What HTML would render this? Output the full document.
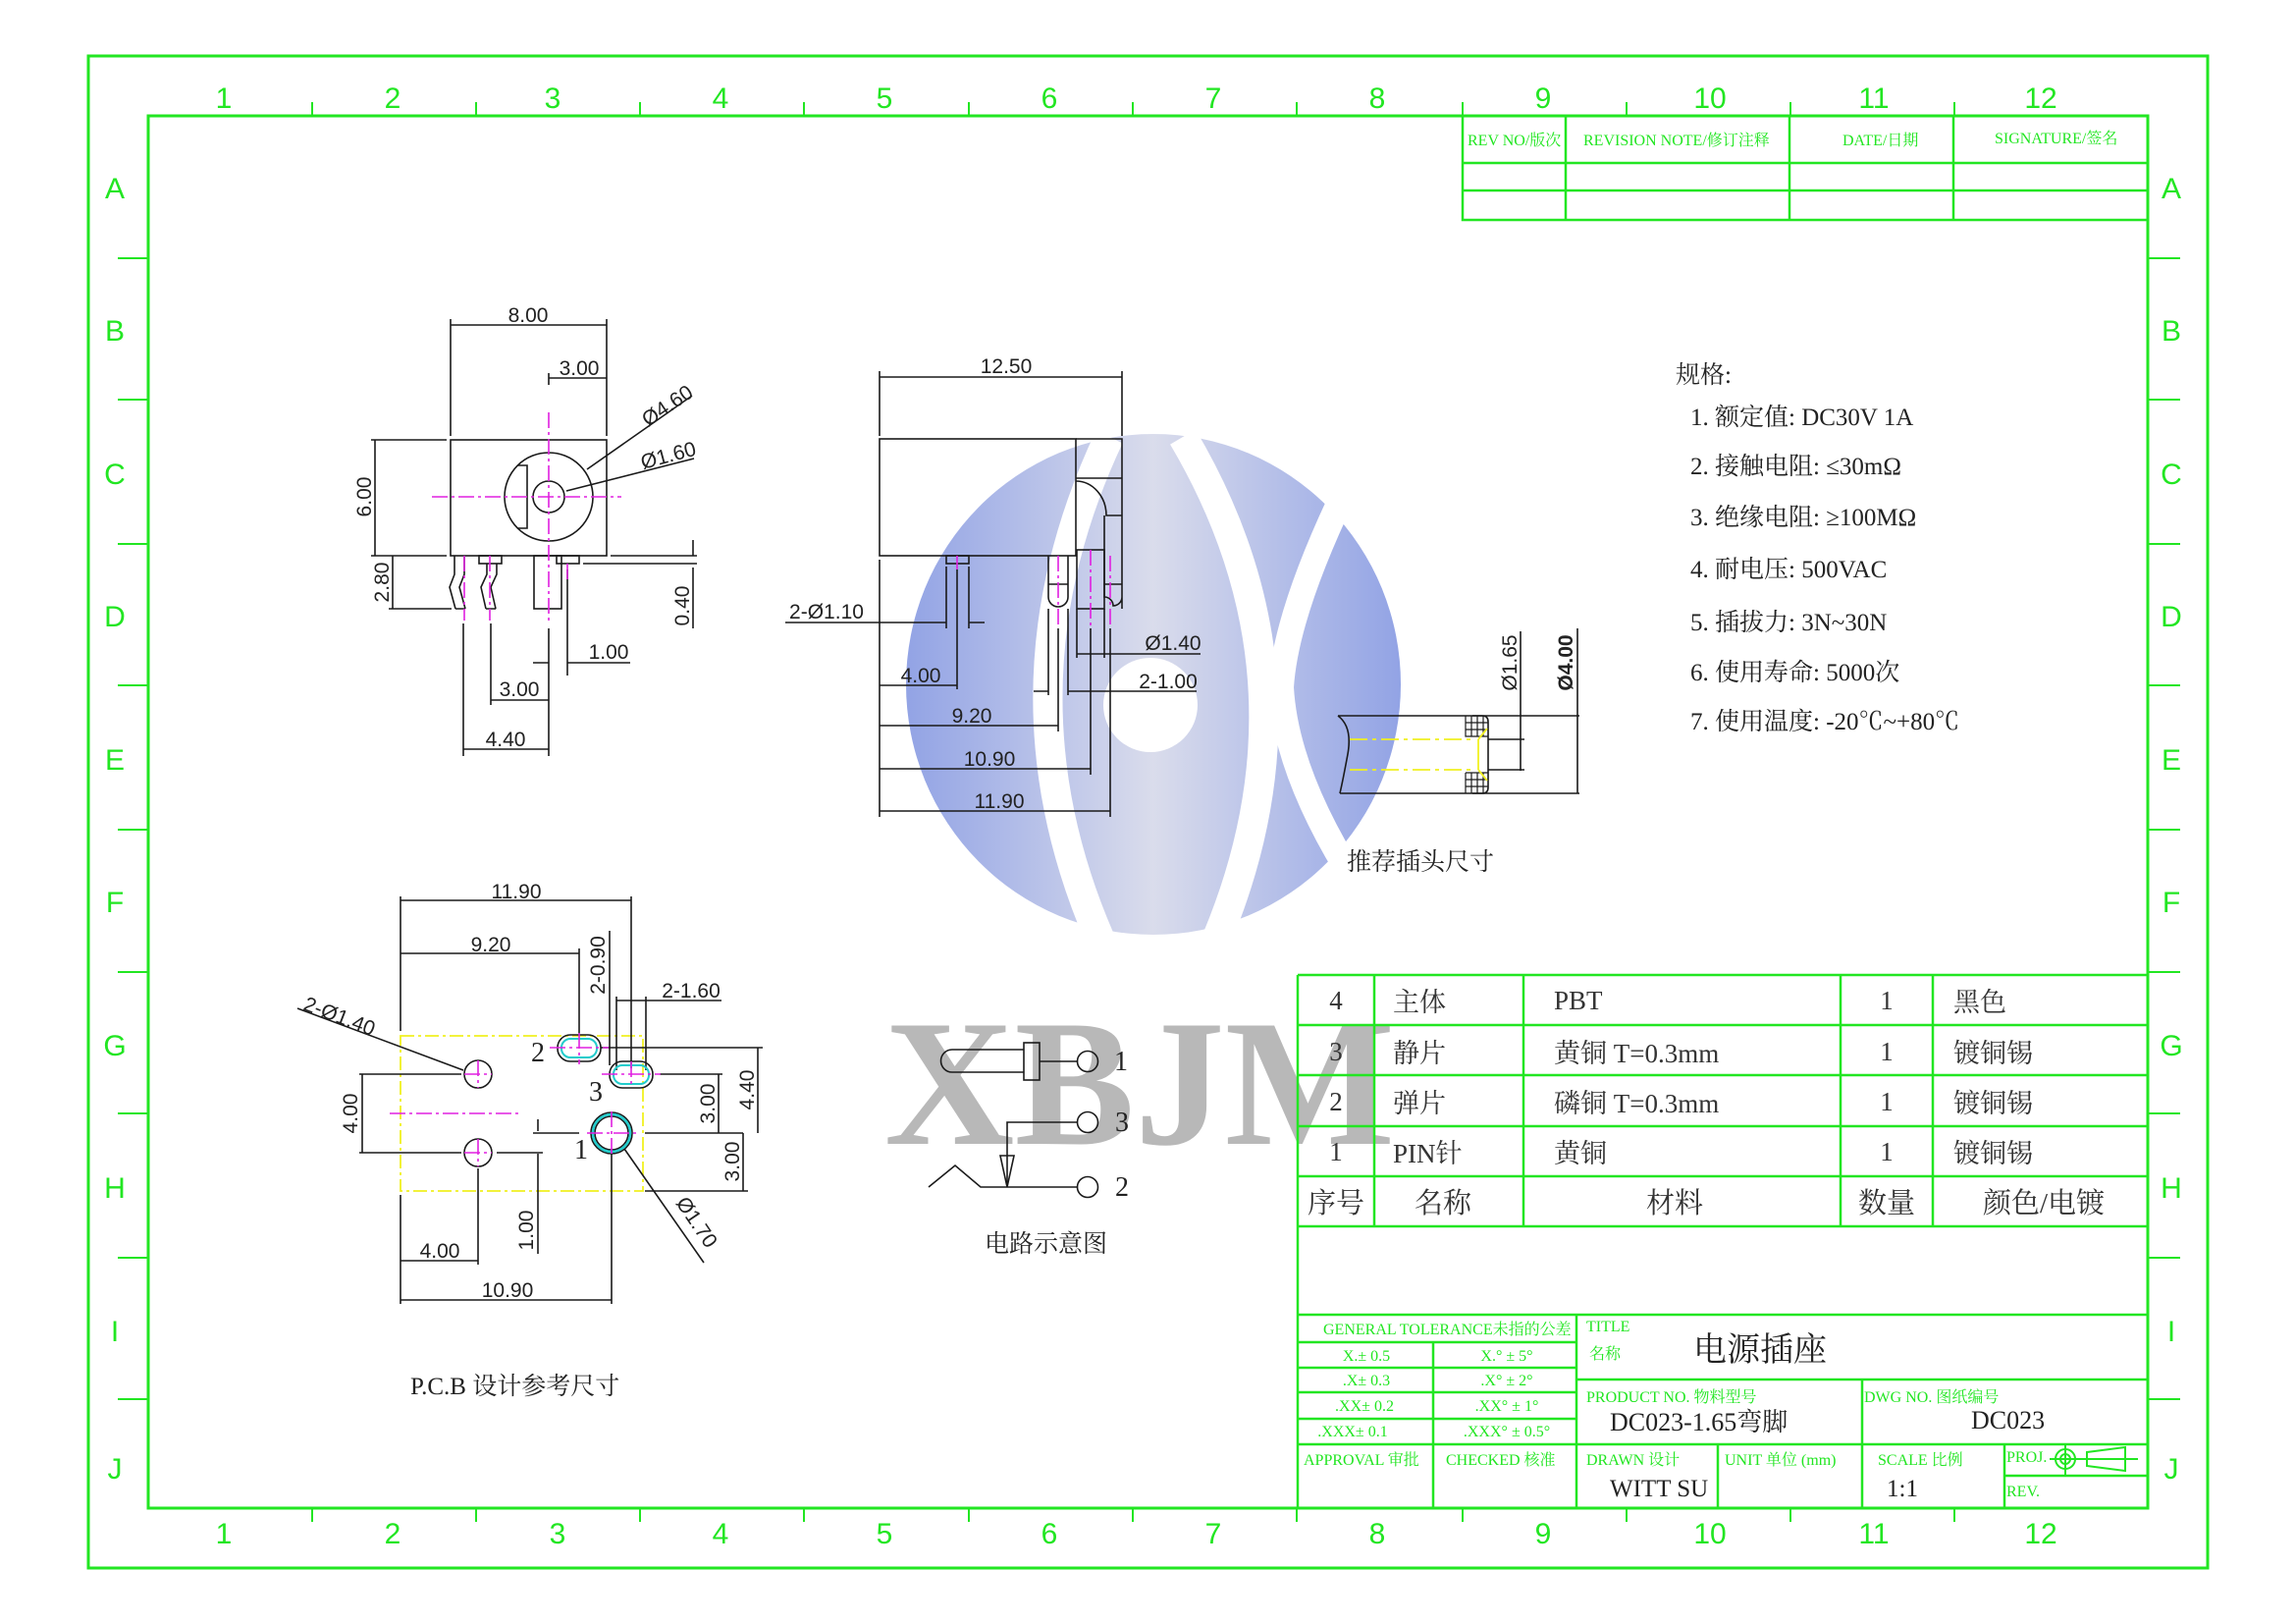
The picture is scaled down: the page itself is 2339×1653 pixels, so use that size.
<!DOCTYPE html>
<html><head><meta charset="utf-8"><style>
html,body{margin:0;padding:0;background:#fff;}
svg{display:block;}
.g{fill:none;stroke:#22e622;}
.k{fill:none;stroke:#1a1a1a;stroke-width:1.6;}
.m{fill:none;stroke:#e020e0;stroke-width:1.6;stroke-dasharray:16 4 3 4;}
.fr{font-family:"Liberation Sans",sans-serif;font-size:30px;fill:#22e622;text-anchor:middle;}
.dim{font-family:"Liberation Sans",sans-serif;font-size:21px;fill:#222;}
.gt{font-family:"Liberation Serif","Noto Serif CJK SC",serif;font-size:16px;fill:#22e622;}
.bt{font-family:"Liberation Serif","Noto Serif CJK SC",serif;font-size:27px;fill:#333;}
.st{font-family:"Liberation Serif","Noto Serif CJK SC",serif;font-size:25px;fill:#222;}
</style></head><body>
<svg width="2339" height="1653" viewBox="0 0 2339 1653" xmlns="http://www.w3.org/2000/svg">
<defs>
<linearGradient id="bl" x1="0" y1="0" x2="1" y2="0">
<stop offset="0" stop-color="#7f93e0"/><stop offset="0.22" stop-color="#a3b0e4"/><stop offset="0.5" stop-color="#d3d6e8"/><stop offset="0.78" stop-color="#a3b0e4"/><stop offset="1" stop-color="#7f93e0"/>
</linearGradient>
</defs>
<rect width="2339" height="1653" fill="#fff"/>
<!-- watermark logo -->
<ellipse cx="1175" cy="697" rx="252" ry="255" fill="url(#bl)" opacity="0.85"/>
<path d="M1130,445 Q1010,700 1120,955" fill="none" stroke="#fff" stroke-width="30"/>
<path d="M1205,445 Q1350,690 1240,955" fill="none" stroke="#fff" stroke-width="30"/>
<path d="M1380,480 Q1310,620 1305,700 Q1310,790 1385,905" fill="none" stroke="#fff" stroke-width="26"/>
<circle cx="1172" cy="718" r="48" fill="#fff"/>
<!-- XBJM -->
<text x="901" y="1165" font-family="Liberation Serif,serif" font-weight="bold" font-size="184" fill="#b8b8b8" textLength="520" lengthAdjust="spacingAndGlyphs">XBJM</text>

<!-- frame -->
<rect x="90" y="57" width="2159" height="1540" class="g" stroke-width="3"/>
<rect x="151" y="118" width="2037" height="1418" class="g" stroke-width="3"/>
<g class="g" stroke-width="2">
<path d="M318,104V118M485,104V118M652,104V118M819,104V118M987,104V118M1154,104V118M1321,104V118M1490,104V118M1657,104V118M1824,104V118M1991,104V118"/>
<path d="M318,1536V1550M485,1536V1550M652,1536V1550M819,1536V1550M987,1536V1550M1154,1536V1550M1321,1536V1550M1490,1536V1550M1657,1536V1550M1824,1536V1550M1991,1536V1550"/>
<path d="M120,263H151M120,407H151M120,554H151M120,698H151M120,845H151M120,990H151M120,1134H151M120,1281H151M120,1425H151"/>
<path d="M2188,263H2221M2188,407H2221M2188,554H2221M2188,698H2221M2188,845H2221M2188,990H2221M2188,1134H2221M2188,1281H2221M2188,1425H2221"/>
</g>
<g class="fr">
<text x="228" y="110">1</text><text x="400" y="110">2</text><text x="563" y="110">3</text><text x="734" y="110">4</text><text x="901" y="110">5</text><text x="1069" y="110">6</text><text x="1236" y="110">7</text><text x="1403" y="110">8</text><text x="1572" y="110">9</text><text x="1742" y="110">10</text><text x="1909" y="110">11</text><text x="2079" y="110">12</text>
<text x="228" y="1572">1</text><text x="400" y="1572">2</text><text x="568" y="1572">3</text><text x="734" y="1572">4</text><text x="901" y="1572">5</text><text x="1069" y="1572">6</text><text x="1236" y="1572">7</text><text x="1403" y="1572">8</text><text x="1572" y="1572">9</text><text x="1742" y="1572">10</text><text x="1909" y="1572">11</text><text x="2079" y="1572">12</text>
<text x="117" y="202">A</text><text x="117" y="347">B</text><text x="117" y="493">C</text><text x="117" y="638">D</text><text x="117" y="784">E</text><text x="117" y="929">F</text><text x="117" y="1075">G</text><text x="117" y="1220">H</text><text x="117" y="1366">I</text><text x="117" y="1506">J</text>
<text x="2212" y="202">A</text><text x="2212" y="347">B</text><text x="2212" y="493">C</text><text x="2212" y="638">D</text><text x="2212" y="784">E</text><text x="2212" y="929">F</text><text x="2212" y="1075">G</text><text x="2212" y="1220">H</text><text x="2212" y="1366">I</text><text x="2212" y="1506">J</text>
</g>

<!-- revision table -->
<g class="g" stroke-width="2.5">
<path d="M1490,118V224H2188M1490,166H2188M1490,194H2188M1595,118V224M1823,118V224M1990,118V224"/>
</g>
<g class="gt" font-size="16">
<text x="1495" y="148">REV NO/版次</text><text x="1613" y="148">REVISION NOTE/修订注释</text><text x="1877" y="148">DATE/日期</text><text x="2032" y="146">SIGNATURE/签名</text>
</g>

<!-- BOM table -->
<g class="g" stroke-width="2.5">
<path d="M1322,993H2188M1322,1044H2188M1322,1095H2188M1322,1147H2188M1322,1198H2188M1322,1249H2188M1322,1339H2188"/>
<path d="M1322,993V1536M1400,993V1249M1552,993V1249M1875,993V1249M1969,993V1249"/>
<path d="M1322,1367H1606M1322,1393H1606M1322,1418H1606M1322,1445H1606M1322,1471H2188M1606,1405H2188M1460,1367V1536M1606,1339V1536M1897,1405V1536M1750,1471V1536M2042,1471V1536M2042,1503H2188"/>
</g>
<g class="bt">
<text x="1361" y="1028" text-anchor="middle">4</text><text x="1419" y="1030">主体</text><text x="1583" y="1028">PBT</text><text x="1922" y="1028" text-anchor="middle">1</text><text x="1990" y="1030">黑色</text>
<text x="1361" y="1080" text-anchor="middle">3</text><text x="1419" y="1082">静片</text><text x="1583" y="1082">黄铜 T=0.3mm</text><text x="1922" y="1080" text-anchor="middle">1</text><text x="1990" y="1082">镀铜锡</text>
<text x="1361" y="1131" text-anchor="middle">2</text><text x="1419" y="1133">弹片</text><text x="1583" y="1133">磷铜 T=0.3mm</text><text x="1922" y="1131" text-anchor="middle">1</text><text x="1990" y="1133">镀铜锡</text>
<text x="1361" y="1182" text-anchor="middle">1</text><text x="1419" y="1184">PIN针</text><text x="1583" y="1184">黄铜</text><text x="1922" y="1182" text-anchor="middle">1</text><text x="1990" y="1184">镀铜锡</text>
<text x="1361" y="1235" text-anchor="middle" font-size="29">序号</text><text x="1470" y="1235" text-anchor="middle" font-size="29">名称</text><text x="1706" y="1235" text-anchor="middle" font-size="29">材料</text><text x="1922" y="1235" text-anchor="middle" font-size="29">数量</text><text x="2082" y="1235" text-anchor="middle" font-size="29">颜色/电镀</text>
</g>
<g class="gt" font-size="17">
<text x="1348" y="1359">GENERAL TOLERANCE未指的公差</text>
<text x="1392" y="1386" text-anchor="middle">X.± 0.5</text><text x="1535" y="1386" text-anchor="middle">X.° ± 5°</text>
<text x="1392" y="1411" text-anchor="middle">.X± 0.3</text><text x="1535" y="1411" text-anchor="middle">.X° ± 2°</text>
<text x="1390" y="1437" text-anchor="middle">.XX± 0.2</text><text x="1535" y="1437" text-anchor="middle">.XX° ± 1°</text>
<text x="1378" y="1463" text-anchor="middle">.XXX± 0.1</text><text x="1535" y="1463" text-anchor="middle">.XXX° ± 0.5°</text>
<text x="1328" y="1492">APPROVAL 审批</text><text x="1473" y="1492">CHECKED 核准</text>
<text x="1616" y="1356">TITLE</text><text x="1619" y="1384">名称</text>
<text x="1616" y="1428">PRODUCT NO.  物料型号</text><text x="1899" y="1428">DWG NO. 图纸编号</text>
<text x="1616" y="1492">DRAWN  设计</text><text x="1757" y="1492">UNIT 单位 (mm)</text><text x="1913" y="1492">SCALE 比例</text>
<text x="2044" y="1489">PROJ.</text><text x="2044" y="1524">REV.</text>
</g>
<g class="st" fill="#222">
<text x="1725" y="1386" font-size="34">电源插座</text>
<text x="1640" y="1457" font-size="26">DC023-1.65弯脚</text>
<text x="2008" y="1455" font-size="26">DC023</text>
<text x="1640" y="1524" font-size="25">WITT SU</text>
<text x="1922" y="1524" font-size="25">1:1</text>
</g>
<g class="g" stroke-width="2">
<circle cx="2104" cy="1486" r="10"/><circle cx="2104" cy="1486" r="5"/>
<path d="M2088,1486H2178M2104,1470V1502M2126,1479L2165,1474V1498L2126,1493Z"/>
</g>

<!-- spec text -->
<text x="1707" y="390" class="st" font-size="32">规格:</text>
<g class="st">
<text x="1722" y="433">1. 额定值:  DC30V  1A</text>
<text x="1722" y="483">2. 接触电阻:  ≤30mΩ</text>
<text x="1722" y="535">3. 绝缘电阻:  ≥100MΩ</text>
<text x="1722" y="588">4. 耐电压:  500VAC</text>
<text x="1722" y="642">5. 插拔力:  3N~30N</text>
<text x="1722" y="693">6. 使用寿命:  5000次</text>
<text x="1722" y="743">7. 使用温度:  -20℃~+80℃</text>
</g>

<!-- front view -->
<g class="k">
<rect x="459" y="448" width="159" height="118"/>
<circle cx="559" cy="506" r="45"/><circle cx="559" cy="506" r="16"/>
<path d="M527,474H537V538H527"/>
<path d="M459,325V444M618,325V444M459,331H618M559,385H618M559,380V392"/>
<path d="M598,478L705,403M577,500L707,467"/>
<path d="M378,448H455M378,566H455M382,448V566"/>
<path d="M463,566V585L458,598L464,620M473,566V585L468,598L474,620M464,620H474"/>
<rect x="488" y="566" width="23" height="8"/>
<path d="M496,574V585L490,598L495,620M506,574V585L500,598L505,620M495,620H505"/>
<rect x="544" y="566" width="28" height="54"/>
<rect x="567" y="566" width="23" height="8"/>
<path d="M400,566V620M396,620H460"/>
<path d="M622,566H710M594,574H710M706,550V566M706,578V640"/>
<path d="M472,635V770M500,635V718M559,640V770M578,580V688M543,675H559M578,675H642M500,713H559M472,763H559"/>
</g>
<g class="m">
<path d="M440,506H633M559,420V635M473,566V632M499,566V632M578,574V590"/>
</g>
<g class="dim">
<text x="538" y="328" text-anchor="middle">8.00</text>
<text x="590" y="382" text-anchor="middle">3.00</text>
<text transform="translate(660,435) rotate(-34)">Ø4.60</text>
<text transform="translate(655,478) rotate(-15)">Ø1.60</text>
<text transform="translate(378,506) rotate(-90)" text-anchor="middle">6.00</text>
<text transform="translate(396,593) rotate(-90)" text-anchor="middle">2.80</text>
<text transform="translate(702,617) rotate(-90)" text-anchor="middle">0.40</text>
<text x="620" y="671" text-anchor="middle">1.00</text>
<text x="529" y="709" text-anchor="middle">3.00</text>
<text x="515" y="760" text-anchor="middle">4.40</text>
</g>

<!-- side view -->
<g class="k">
<path d="M896,378V444M1143,378V444M896,384H1143"/>
<rect x="896" y="447" width="200" height="119"/>
<path d="M1096,447H1143V620M1096,487H1143M1096,490A31,35 0 0 1 1127,525H1143M1125,525V608A9,9 0 0 1 1134,617A9,9 0 0 0 1143,608"/>
<rect x="1097" y="560" width="28" height="60"/>
<rect x="964" y="566" width="23" height="8"/>
<path d="M1068,566V608A10,10 0 0 0 1088,608V566M1068,595H1088M1125,595H1143"/>
<path d="M896,570V832M964,577V640M987,577V640M800,634H964M987,634H1003M975,580V702M896,698H975"/>
<path d="M1068,620V708M1088,620V708M1053,704H1068M1088,704H1219M1078,640V745M896,739H1078"/>
<path d="M1097,620V670M1125,620V670M1097,666H1223M1111,640V789M896,783H1111M1131,640V832M896,826H1131"/>
</g>
<g class="m">
<path d="M975,566V580M1078,566V640M1111,560V640M1131,566V640"/>
</g>
<g class="dim">
<text x="1025" y="380" text-anchor="middle">12.50</text>
<text x="842" y="630" text-anchor="middle">2-Ø1.10</text>
<text x="938" y="695" text-anchor="middle">4.00</text>
<text x="990" y="736" text-anchor="middle">9.20</text>
<text x="1008" y="780" text-anchor="middle">10.90</text>
<text x="1018" y="823" text-anchor="middle">11.90</text>
<text x="1195" y="662" text-anchor="middle">Ø1.40</text>
<text x="1190" y="701" text-anchor="middle">2-1.00</text>
</g>

<!-- plug -->
<g class="k">
<path d="M1363,729H1609M1365,808H1609M1363,729Q1378,740 1373,768Q1368,795 1365,808"/>
<path d="M1500,729H1510Q1516,729 1516,735V802Q1516,808 1510,808H1500"/>
<path d="M1516,753H1553M1516,784H1553M1549,643V785M1607,640V808"/>
<path d="M1493,729V750H1516M1493,787V808M1493,787H1516M1499,729V750M1505,729V750M1511,729V750M1493,736H1516M1493,743H1516M1499,787V808M1505,787V808M1511,787V808M1493,794H1516M1493,801H1516" stroke-width="1.2"/>
</g>
<g fill="none" stroke="#f0f020" stroke-width="1.8">
<path d="M1375,753H1500M1375,784H1500" stroke-dasharray="18 5 4 5"/>
<path d="M1506,753V784M1506,753L1515,742M1506,784L1515,795"/>
</g>
<g class="dim">
<text transform="translate(1545,675) rotate(-90)" text-anchor="middle">Ø1.65</text>
<text transform="translate(1602,675) rotate(-90)" text-anchor="middle" font-weight="bold">Ø4.00</text>
</g>
<text x="1372" y="886" class="st" fill="#555" font-size="25">推荐插头尺寸</text>

<!-- PCB -->
<rect x="408" y="1055" width="247" height="158" fill="none" stroke="#f0f020" stroke-width="1.8" stroke-dasharray="14 4 3 4"/>
<g class="k">
<path d="M408,913V1050M643,913V1088M408,917H643M590,966V1055M408,971H590"/>
<path d="M621,948V1085M628,1015V1090M658,1015V1090M628,1019H735"/>
<path d="M303,1027L472,1090"/>
<circle cx="487" cy="1094" r="14"/><circle cx="487" cy="1174" r="14"/>
<circle cx="623" cy="1154" r="21"/><circle cx="623" cy="1154" r="17"/>
<rect x="568" y="1054" width="44" height="27" rx="13"/><rect x="572" y="1058" width="36" height="19" rx="9" stroke="#2cc" stroke-width="2"/>
<rect x="621" y="1081" width="44" height="27" rx="13"/><rect x="625" y="1085" width="36" height="19" rx="9" stroke="#2cc" stroke-width="2"/>
<circle cx="623" cy="1154" r="19" stroke="#2cc" stroke-width="2.5"/>
<path d="M366,1094H470M366,1174H470M506,1174H553M369,1094V1174"/>
<path d="M612,1067H777M672,1094H736M657,1154H757M543,1154H590M657,1213H762M732,1094V1154M772,1067V1154M757,1154V1213"/>
<path d="M548,1140V1152M548,1175V1277M636,1170L717,1286"/>
<path d="M487,1190V1288M408,1284H487M623,1175V1328M408,1217V1328M408,1324H623"/>
</g>
<g class="m">
<path d="M397,1134H532M473,1094H501M487,1080V1108M473,1174H501M487,1160V1188M598,1154H648M623,1132V1176M560,1067H620M590,1052V1084M613,1094H673M643,1081V1108"/>
</g>
<g class="dim">
<text x="526" y="915" text-anchor="middle">11.90</text>
<text x="500" y="969" text-anchor="middle">9.20</text>
<text transform="translate(616,983) rotate(-90)" text-anchor="middle">2-0.90</text>
<text x="704" y="1016" text-anchor="middle">2-1.60</text>
<text transform="translate(308,1028) rotate(21)">2-Ø1.40</text>
<text transform="translate(364,1134) rotate(-90)" text-anchor="middle">4.00</text>
<text transform="translate(728,1124) rotate(-90)" text-anchor="middle">3.00</text>
<text transform="translate(768,1110) rotate(-90)" text-anchor="middle">4.40</text>
<text transform="translate(753,1183) rotate(-90)" text-anchor="middle">3.00</text>
<text transform="translate(543,1253) rotate(-90)" text-anchor="middle">1.00</text>
<text transform="translate(688,1225) rotate(56)">Ø1.70</text>
<text x="448" y="1281" text-anchor="middle">4.00</text>
<text x="517" y="1321" text-anchor="middle">10.90</text>
</g>
<g font-family="Liberation Serif,serif" font-size="28" fill="#222">
<text x="541" y="1081">2</text><text x="600" y="1121">3</text><text x="585" y="1180">1</text>
</g>
<text x="418" y="1420" class="st" font-size="22">P.C.B 设计参考尺寸</text>

<!-- circuit -->
<g class="k" stroke-width="2">
<path d="M1043,1069H970A11.5,11.5 0 0 0 970,1092H1043"/>
<rect x="1043" y="1062" width="16" height="38"/>
<path d="M1059,1081H1097M1098,1143H1026V1209M946,1209L973,1187L999,1209H1098"/>
<path d="M1019,1177H1033L1026,1209Z"/>
<circle cx="1108" cy="1081" r="10.5"/><circle cx="1108" cy="1143" r="10.5"/><circle cx="1108" cy="1209" r="10.5"/>
</g>
<g font-family="Liberation Serif,serif" font-size="28" fill="#222">
<text x="1135" y="1090">1</text><text x="1136" y="1152">3</text><text x="1136" y="1218">2</text>
</g>
<text x="1003" y="1275" class="st" font-size="20">电路示意图</text>
</svg>
</body></html>
